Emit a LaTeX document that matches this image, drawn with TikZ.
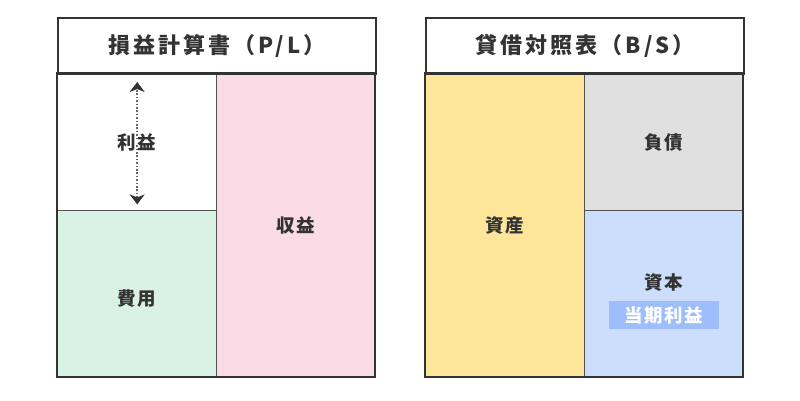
\documentclass[tikz,border=0pt]{standalone}
\usepackage{fontspec}
\setmainfont{Noto Sans CJK JP}
\newfontfamily\titlefont{Noto Sans CJK JP}[LetterSpace=14]
\newfontfamily\labelfont{Noto Sans CJK JP}[LetterSpace=8]
\usetikzlibrary{arrows.meta}
\definecolor{ink}{HTML}{333333}
\definecolor{pinkfill}{HTML}{FADBE6}
\definecolor{greenfill}{HTML}{D9F2E5}
\definecolor{yellowfill}{HTML}{FDE59A}
\definecolor{grayfill}{HTML}{E0E0E0}
\definecolor{bluefill}{HTML}{CDDDFC}
\definecolor{tagfill}{HTML}{9DBDFB}
\begin{document}
\begin{tikzpicture}[x=1pt,y=-1pt,
	cell/.style={draw=ink!85,line width=1.4pt,anchor=north west,inner sep=0pt},
	title_cell/.style={draw=ink,line width=2pt,anchor=north west,inner sep=0pt,minimum width=318pt,minimum height=56pt,font=\titlefont\bfseries\fontsize{22}{24}\selectfont,text=ink},
	label/.style={font=\labelfont\bfseries\fontsize{18.5}{20}\selectfont,text=ink,inner sep=2pt},
	tag/.style={fill=tagfill,text=white,font=\labelfont\bfseries\fontsize{18.5}{20}\selectfont,minimum width=110pt,minimum height=28pt,inner sep=0pt},
	span_arrow/.style={draw=ink!75,dash pattern=on 1.6pt off 1.8pt,line width=1.6pt,-{Stealth[length=10pt,width=15pt,inset=3pt,fill=ink,color=ink]}}]
	
	\useasboundingbox (0,0) rectangle (800,400);
	
	% P/L
	\node[cell,fill=white,minimum width=159pt,minimum height=137pt] (pl_rieki) at (57,73) {};
	\node[cell,fill=greenfill,minimum width=159pt,minimum height=167pt] (pl_hiyou) at (57,210) {};
	\node[cell,fill=pinkfill,minimum width=159pt,minimum height=304pt] (pl_shueki) at (216,73) {};
	\draw[ink,line width=2pt] (57,73) rectangle (375,377);
	\node[title_cell] (pl_title) at (57,17) {損益計算書（P/L）};
	
	\node[label] (rieki) at (pl_rieki.center) {利益};
	\coordinate (rieki_top) at ([yshift=-9pt]pl_rieki.north);
	\coordinate (rieki_bottom) at ([yshift=7pt]pl_rieki.south);
	\draw[span_arrow] ([yshift=-8pt]rieki.north) -- (rieki_top);
	\draw[span_arrow] ([yshift=8pt]rieki.south) -- (rieki_bottom);
	\node[label] (hiyou) at ([yshift=-4pt]pl_hiyou.center) {費用};
	\node[label] (shueki) at (pl_shueki.center) {収益};
	
	% B/S
	\node[cell,fill=yellowfill,minimum width=159pt,minimum height=304pt] (bs_shisan) at (425,73) {};
	\node[cell,fill=grayfill,minimum width=159pt,minimum height=137pt] (bs_fusai) at (584,73) {};
	\node[cell,fill=bluefill,minimum width=159pt,minimum height=167pt] (bs_shihon) at (584,210) {};
	\draw[ink,line width=2pt] (425,73) rectangle (743,377);
	\node[title_cell] (bs_title) at (425,17) {貸借対照表（B/S）};
	
	\node[label] (shisan) at (bs_shisan.center) {資産};
	\node[label] (fusai) at (bs_fusai.center) {負債};
	\node[label] (shihon) at (664,282) {資本};
	\node[tag] (touki_rieki) at (664,315) {当期利益};
\end{tikzpicture}
\end{document}
